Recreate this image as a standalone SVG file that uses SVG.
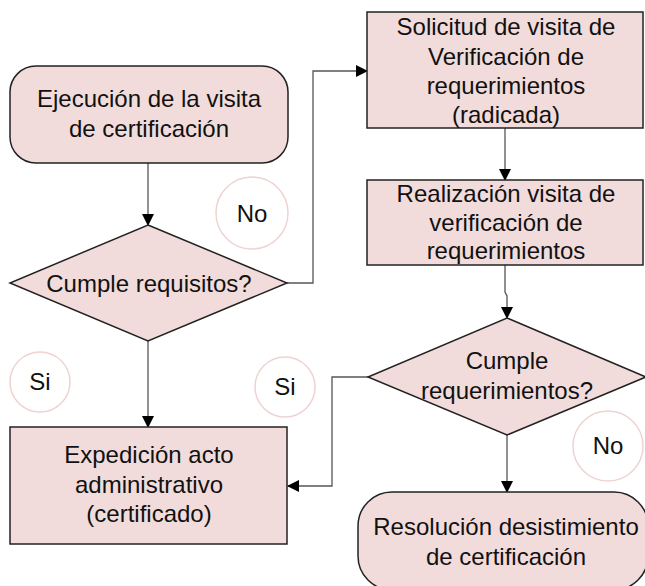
<svg xmlns="http://www.w3.org/2000/svg" width="645" height="586" viewBox="0 0 645 586">
<defs>
<style>
.node{fill:#f2dcdb;stroke:#222;stroke-width:1.5}
.t{font-family:"Liberation Sans",Arial,sans-serif;font-size:24px;fill:#111;text-anchor:middle}
.c{fill:none;stroke:#555;stroke-width:1.3}
.lbl{fill:#fff;stroke:#efd3d3;stroke-width:1.5}
</style>
<marker id="ah" markerWidth="12" markerHeight="12" refX="11" refY="6" orient="auto" markerUnits="userSpaceOnUse">
<path d="M0,0 L12,6 L0,12 z" fill="#000"/>
</marker>
</defs>
<rect width="645" height="586" fill="#fff"/>
<g id="connectors">
<path class="c" d="M148,163 V225" marker-end="url(#ah)"/>
<path class="c" d="M287,283 H313 V71 H367" marker-end="url(#ah)"/>
<path class="c" d="M505,128 V180" marker-end="url(#ah)"/>
<path class="c" d="M505,265 V292 L507,296 V318" marker-end="url(#ah)"/>
<path class="c" d="M148,341 V427" marker-end="url(#ah)"/>
<path class="c" d="M368,377 H332 V486 H288" marker-end="url(#ah)"/>
<path class="c" d="M507,435 V492" marker-end="url(#ah)"/>
</g>
<g id="n1">
<rect class="node" x="10" y="66" width="278" height="97" rx="26"/>
<text class="t" x="149" y="107">Ejecución de la visita</text>
<text class="t" x="149" y="137">de certificación</text>
</g>
<g id="n2">
<rect class="node" x="367" y="12" width="276" height="116"/>
<text class="t" x="506" y="35">Solicitud de visita de</text>
<text class="t" x="506" y="65">Verificación de</text>
<text class="t" x="506" y="94">requerimientos</text>
<text class="t" x="506" y="123">(radicada)</text>
</g>
<g id="n3">
<rect class="node" x="367" y="180" width="276" height="85"/>
<text class="t" x="506" y="202">Realización visita de</text>
<text class="t" x="506" y="231">verificación de</text>
<text class="t" x="506" y="259">requerimientos</text>
</g>
<g id="d1">
<polygon class="node" points="148,225 287,283 148,341 10,283"/>
<text class="t" x="149" y="292">Cumple requisitos?</text>
</g>
<g id="d2">
<polygon class="node" points="507,318 646,377 507,435 368,377"/>
<text class="t" x="507" y="369">Cumple</text>
<text class="t" x="507" y="399">requerimientos?</text>
</g>
<g id="n4">
<rect class="node" x="10" y="427" width="277" height="117"/>
<text class="t" x="149" y="463">Expedición acto</text>
<text class="t" x="149" y="493">administrativo</text>
<text class="t" x="149" y="522">(certificado)</text>
</g>
<g id="n5">
<rect class="node" x="358" y="492" width="290" height="98" rx="34"/>
<text class="t" x="506" y="535">Resolución desistimiento</text>
<text class="t" x="506" y="565">de certificación</text>
</g>
<g id="l1">
<circle class="lbl" cx="252" cy="213" r="36"/>
<text class="t" x="252" y="222">No</text>
</g>
<g id="l2">
<circle class="lbl" cx="40" cy="382" r="30"/>
<text class="t" x="40" y="390">Si</text>
</g>
<g id="l3">
<circle class="lbl" cx="285" cy="387" r="30"/>
<text class="t" x="285" y="395">Si</text>
</g>
<g id="l4">
<circle class="lbl" cx="608" cy="446" r="35"/>
<text class="t" x="608" y="454">No</text>
</g>
</svg>
